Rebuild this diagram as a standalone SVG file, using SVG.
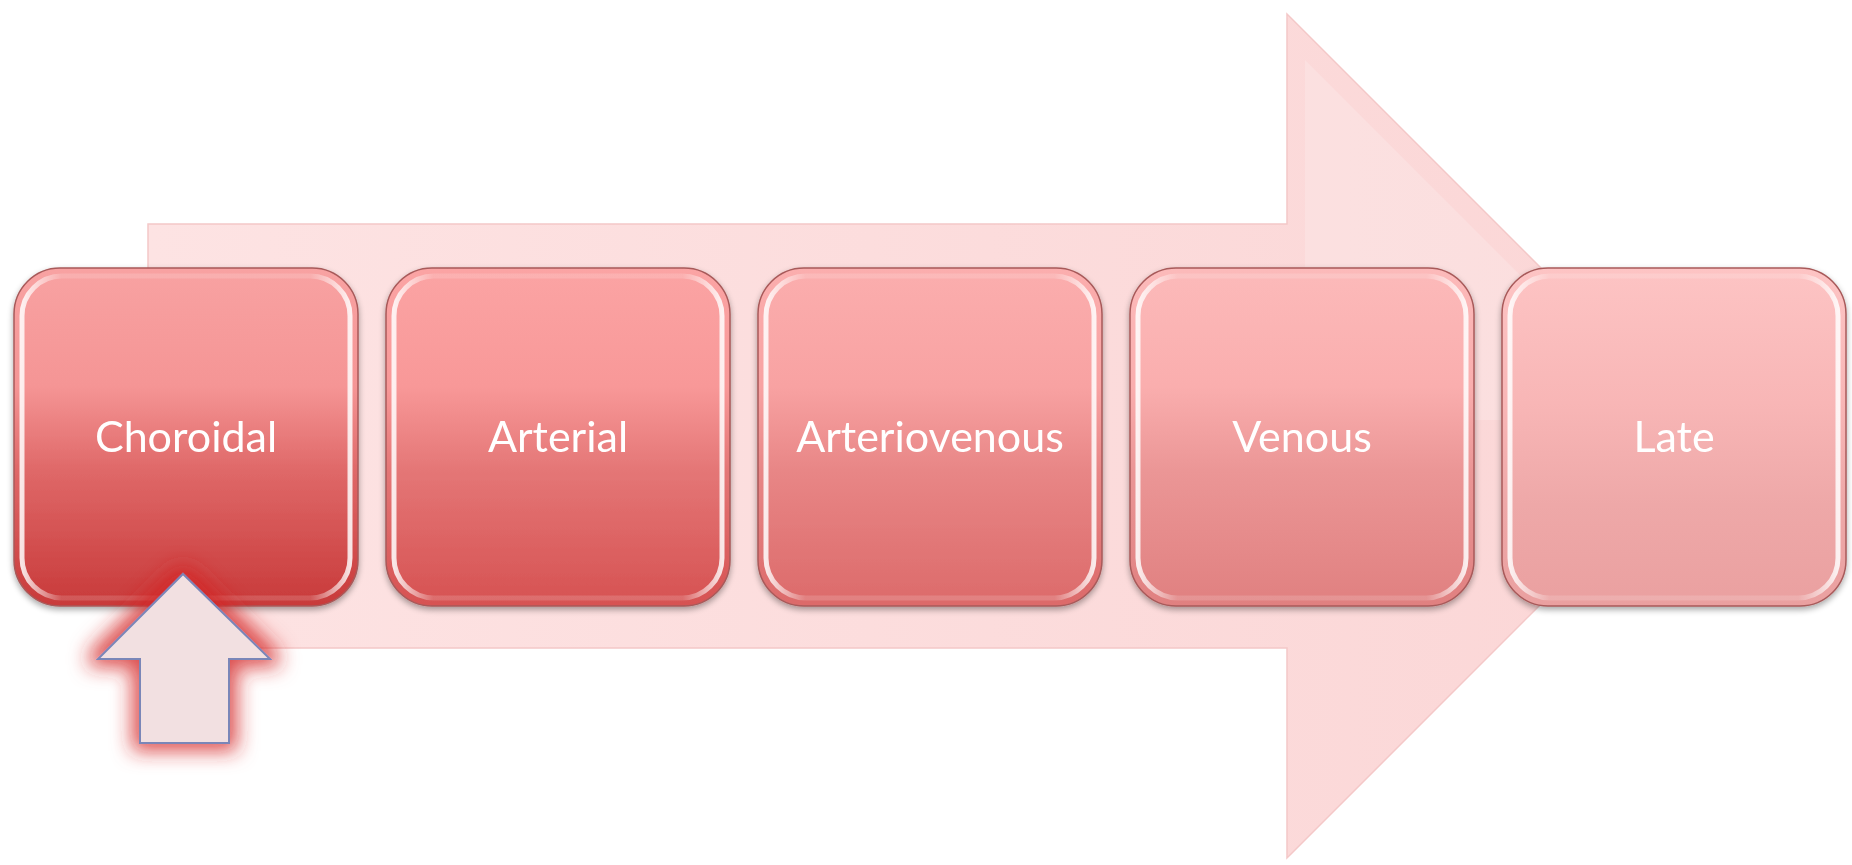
<svg xmlns="http://www.w3.org/2000/svg" width="1852" height="865" viewBox="0 0 1852 865">
<defs>
<style>
.lbl{font-family:Lato,"Open Sans","Liberation Sans",sans-serif;font-size:43px;fill:#ffffff;text-anchor:middle}
.box{stroke:#a85a5a;stroke-width:1.5}
.hl{fill:none;stroke:url(#hlG);stroke-width:5}
</style>
<linearGradient id="hlG" x1="0" y1="0" x2="1" y2="0">
<stop offset="0" stop-color="#ffffff" stop-opacity="0.85"/>
<stop offset="0.12" stop-color="#ffffff" stop-opacity="0.15"/>
<stop offset="0.88" stop-color="#ffffff" stop-opacity="0.15"/>
<stop offset="1" stop-color="#ffffff" stop-opacity="0.85"/>
</linearGradient>
<linearGradient id="arrowG" x1="0" y1="0" x2="1" y2="0">
<stop offset="0" stop-color="#fde3e3"/>
<stop offset="1" stop-color="#fbd6d6"/>
</linearGradient>
<linearGradient id="g1" x1="0" y1="0" x2="0" y2="1">
<stop offset="0" stop-color="#f8a2a2"/><stop offset="0.35" stop-color="#f59595"/><stop offset="0.6" stop-color="#df6868"/><stop offset="1" stop-color="#c83a3a"/>
</linearGradient>
<linearGradient id="g2" x1="0" y1="0" x2="0" y2="1">
<stop offset="0" stop-color="#fba4a4"/><stop offset="0.35" stop-color="#f89898"/><stop offset="0.6" stop-color="#e47676"/><stop offset="1" stop-color="#d65252"/>
</linearGradient>
<linearGradient id="g3" x1="0" y1="0" x2="0" y2="1">
<stop offset="0" stop-color="#fbaeae"/><stop offset="0.35" stop-color="#f8a2a2"/><stop offset="0.6" stop-color="#e88686"/><stop offset="1" stop-color="#dc6a6a"/>
</linearGradient>
<linearGradient id="g4" x1="0" y1="0" x2="0" y2="1">
<stop offset="0" stop-color="#fcbaba"/><stop offset="0.35" stop-color="#faaeae"/><stop offset="0.6" stop-color="#eb9696"/><stop offset="1" stop-color="#e08080"/>
</linearGradient>
<linearGradient id="g5" x1="0" y1="0" x2="0" y2="1">
<stop offset="0" stop-color="#fdc4c4"/><stop offset="0.4" stop-color="#f8b6b6"/><stop offset="0.7" stop-color="#eea8a8"/><stop offset="1" stop-color="#eaa0a0"/>
</linearGradient>
<filter id="shadow" x="-10%" y="-10%" width="120%" height="125%">
<feGaussianBlur in="SourceAlpha" stdDeviation="3"/>
<feOffset dy="3"/>
<feComponentTransfer><feFuncA type="linear" slope="0.35"/></feComponentTransfer>
<feMerge><feMergeNode/><feMergeNode in="SourceGraphic"/></feMerge>
</filter>
<filter id="glow" x="-50%" y="-50%" width="200%" height="200%">
<feMorphology in="SourceAlpha" operator="dilate" radius="7" result="d"/>
<feGaussianBlur in="d" stdDeviation="10" result="b"/>
<feFlood flood-color="#d42424" flood-opacity="0.8"/>
<feComposite in2="b" operator="in" result="g"/>
<feMerge><feMergeNode in="g"/><feMergeNode in="SourceGraphic"/></feMerge>
</filter>
</defs>
<rect width="1852" height="865" fill="#ffffff"/>
<g id="connectors">
<polygon points="148,224 1287,224 1287,14 1709,436 1287,858 1287,648 148,648" fill="url(#arrowG)" stroke="#f4c8c8" stroke-width="1.5"/>
<polygon points="1305,60 1665,420 1305,420" fill="#ffffff" fill-opacity="0.18"/>
</g>
<g id="node-choroidal" filter="url(#shadow)">
<rect class="box" x="14" y="268" width="344" height="338" rx="46" fill="url(#g1)"/>
<rect class="hl" x="22" y="276" width="328" height="322" rx="40"/>
<text class="lbl" x="186" y="452">Choroidal</text>
</g>
<g id="node-arterial" filter="url(#shadow)">
<rect class="box" x="386" y="268" width="344" height="338" rx="46" fill="url(#g2)"/>
<rect class="hl" x="394" y="276" width="328" height="322" rx="40"/>
<text class="lbl" x="558" y="452">Arterial</text>
</g>
<g id="node-arteriovenous" filter="url(#shadow)">
<rect class="box" x="758" y="268" width="344" height="338" rx="46" fill="url(#g3)"/>
<rect class="hl" x="766" y="276" width="328" height="322" rx="40"/>
<text class="lbl" x="930" y="452">Arteriovenous</text>
</g>
<g id="node-venous" filter="url(#shadow)">
<rect class="box" x="1130" y="268" width="344" height="338" rx="46" fill="url(#g4)"/>
<rect class="hl" x="1138" y="276" width="328" height="322" rx="40"/>
<text class="lbl" x="1302" y="452">Venous</text>
</g>
<g id="node-late" filter="url(#shadow)">
<rect class="box" x="1502" y="268" width="344" height="338" rx="46" fill="url(#g5)"/>
<rect class="hl" x="1510" y="276" width="328" height="322" rx="40"/>
<text class="lbl" x="1674" y="452">Late</text>
</g>
<g id="pointer">
<polygon points="183,574 270,659 229,659 229,743 140,743 140,659 98,659" fill="#f2e0e1" stroke="#7a86b8" stroke-width="2" stroke-linejoin="miter" filter="url(#glow)"/>
</g>
</svg>
